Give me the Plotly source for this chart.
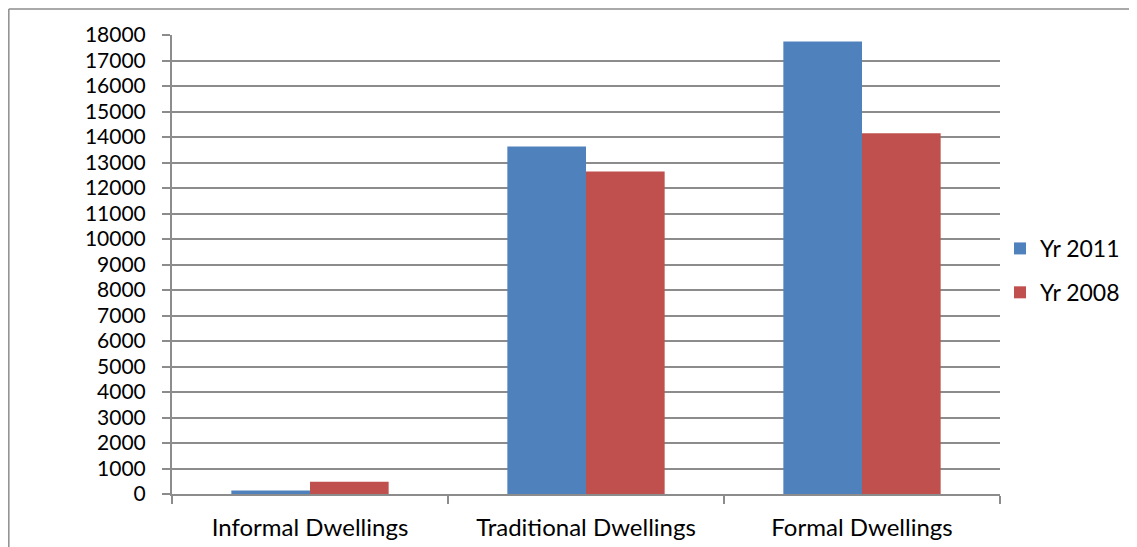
import plotly.graph_objects as go

categories = ["Informal Dwellings", "Traditional Dwellings", "Formal Dwellings"]
yr2011 = [135, 13630, 17750]
yr2008 = [480, 12645, 14150]
series_names = ["Yr 2011", "Yr 2008"]
y_ticks = list(range(0, 18001, 1000))

FONT = "Lato"
GRID = "#8c8c8c"

# the page is offset 8px by the body margin; plot area in page coords is x 172-1000, y 35-494
L, T, R, B = 164, 27, 1137 - 992, 547 - 486
PW, PH = 1137 - L - R, 547 - T - B

fig = go.Figure()
fig.add_trace(go.Bar(x=categories, y=yr2011, name=series_names[0],
                     marker=dict(color="#4F81BD", line=dict(width=0)),
                     legendgroup="a"))
fig.add_trace(go.Bar(x=categories, y=yr2008, name=series_names[1],
                     marker=dict(color="#C0504D", line=dict(width=0)),
                     legendgroup="b"))

fig.update_layout(
    width=1137, height=547,
    margin=dict(l=L, r=R, t=T, b=B),
    paper_bgcolor="white", plot_bgcolor="white",
    font=dict(family=FONT, size=21, color="black"),
    barmode="group", bargap=0.43, bargroupgap=0,
    showlegend=True,
    legend=dict(x=1.0, y=0.487, xanchor="left", yanchor="middle",
                font=dict(family=FONT, size=23), tracegroupgap=11,
                itemwidth=30, bgcolor="rgba(0,0,0,0)"),
    xaxis=dict(showline=True, linecolor=GRID, linewidth=2,
               ticks="outside", tickson="boundaries", ticklen=8,
               tickcolor=GRID, tickwidth=2, showgrid=False,
               ticklabelstandoff=11,
               tickfont=dict(family=FONT, size=24)),
    yaxis=dict(range=[0, 18000], tickvals=y_ticks,
               ticktext=[str(v) for v in y_ticks],
               showline=True, linecolor=GRID, linewidth=2,
               ticks="outside", ticklen=8, tickcolor=GRID, tickwidth=2,
               showgrid=True, gridcolor=GRID, gridwidth=2,
               zeroline=False, ticklabelstandoff=12,
               tickfont=dict(family=FONT, size=21)),
)

# outer chart border (left and top edges of the chart frame)
fig.add_shape(type="line", xref="paper", yref="paper",
              x0=-L / PW + 0.001, x1=-L / PW + 0.001, y0=-B / PH - 0.02, y1=1 + T / PH - 0.002,
              line=dict(color=GRID, width=1.5))
fig.add_shape(type="line", xref="paper", yref="paper",
              x0=-L / PW + 0.001, x1=1 + R / PW + 0.02, y0=1 + T / PH - 0.002, y1=1 + T / PH - 0.002,
              line=dict(color=GRID, width=1.5))

fig.write_html("out.html")
